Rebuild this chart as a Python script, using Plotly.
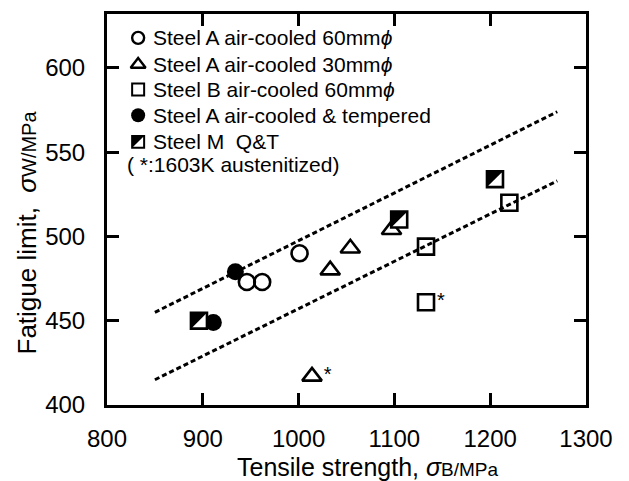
import plotly.graph_objects as go

# ---------------- data ----------------
# Steel A air-cooled 60mm (open circles)
a60_x = [946, 962, 1001]
a60_y = [473, 473, 490]
# Steel A air-cooled 30mm (open triangles); last one 1603K austenitized
a30_x = [1033, 1054, 1097, 1014]
a30_y = [480, 493, 504, 417]
a30_star = ["", "", "", "*"]
# Steel B air-cooled 60mm (open squares); last one 1603K austenitized
b60_x = [1133, 1220, 1133]
b60_y = [494, 520, 461]
b60_star = ["", "", "*"]
# Steel A air-cooled & tempered (filled circles)
at_x = [934, 911]
at_y = [479, 449]
# Steel M Q&T (half-filled squares)
m_x = [896, 1105, 1205]
m_y = [450, 510, 534]
# Scatter band lines
upper_x = [850, 1270]
upper_y = [455, 574]
lower_x = [850, 1270]
lower_y = [415, 533]

legend_labels = [
    "Steel A air-cooled 60mm<i>ϕ</i>",
    "Steel A air-cooled 30mm<i>ϕ</i>",
    "Steel B air-cooled 60mm<i>ϕ</i>",
    "Steel A air-cooled &amp; tempered",
    "Steel M  Q&amp;T",
]
note_text = "( *:1603K austenitized)"

X_RANGE = [800, 1300]
Y_RANGE = [400, 632]
W, H = 629, 481
ML, MR, MT, MB = 107, 43, 11, 76
PW, PH = W - ML - MR, H - MT - MB

FONT = "Liberation Sans, Arial, Helvetica, sans-serif"
BLACK = "black"


def half_square_shapes(xs, ys, half_px, lw, xref, yref, xspan, yspan):
    """Open square with black upper-left half, as shapes in axis coordinates."""
    a = half_px * xspan / PW
    b = half_px * yspan / PH
    out = []
    for x, y in zip(xs, ys):
        out.append(dict(type="rect", xref=xref, yref=yref, x0=x - a, x1=x + a,
                        y0=y - b, y1=y + b, fillcolor="white", line=dict(width=0),
                        layer="above"))
        out.append(dict(type="path", xref=xref, yref=yref,
                        path=f"M {x - a},{y + b} L {x + a},{y + b} L {x - a},{y - b} Z",
                        fillcolor=BLACK, line=dict(width=0), layer="above"))
        out.append(dict(type="rect", xref=xref, yref=yref, x0=x - a, x1=x + a,
                        y0=y - b, y1=y + b, fillcolor="rgba(0,0,0,0)",
                        line=dict(color=BLACK, width=lw), layer="above"))
    return out


fig = go.Figure()

# band lines
for lx, ly in [(upper_x, upper_y), (lower_x, lower_y)]:
    fig.add_trace(go.Scatter(x=lx, y=ly, mode="lines",
                             line=dict(color=BLACK, width=3, dash="5px,3px"),
                             hoverinfo="skip", showlegend=False))

MS = 16
LW = 2.6
# open circles
fig.add_trace(go.Scatter(x=a60_x, y=a60_y, mode="markers", showlegend=False,
                         marker=dict(symbol="circle-open", size=MS, color=BLACK,
                                     line=dict(color=BLACK, width=LW))))
# open triangles
fig.add_trace(go.Scatter(x=a30_x, y=a30_y, mode="markers+text", showlegend=False,
                         text=a30_star, textposition="middle right",
                         textfont=dict(family=FONT, size=20, color=BLACK),
                         marker=dict(symbol="triangle-up-open", size=MS + 1, color=BLACK,
                                     line=dict(color=BLACK, width=LW))))
# open squares
fig.add_trace(go.Scatter(x=b60_x, y=b60_y, mode="markers+text", showlegend=False,
                         text=b60_star, textposition="middle right",
                         textfont=dict(family=FONT, size=20, color=BLACK),
                         marker=dict(symbol="square-open", size=MS, color=BLACK,
                                     line=dict(color=BLACK, width=LW))))
# Steel M points (hover carrier; visual drawn as half-filled squares below)
fig.add_trace(go.Scatter(x=m_x, y=m_y, mode="markers", showlegend=False,
                         marker=dict(symbol="square", size=MS, color=BLACK, opacity=0)))
# filled circles
fig.add_trace(go.Scatter(x=at_x, y=at_y, mode="markers", showlegend=False,
                         marker=dict(symbol="circle", size=MS + 1, color=BLACK,
                                     line=dict(width=0))))

# ---------------- manual legend (paper-like axes) ----------------
leg_y = [0.939, 0.871, 0.807, 0.741, 0.673]
leg_mx = 0.065
LS = 12
legx = [leg_mx]
fig.add_trace(go.Scatter(x=legx, y=leg_y[0:1], xaxis="x2", yaxis="y2", mode="markers",
                         showlegend=False, marker=dict(symbol="circle-open", size=LS, color=BLACK,
                                                       line=dict(color=BLACK, width=2.4))))
fig.add_trace(go.Scatter(x=legx, y=leg_y[1:2], xaxis="x2", yaxis="y2", mode="markers",
                         showlegend=False, marker=dict(symbol="triangle-up-open", size=LS + 1,
                                                       color=BLACK,
                                                       line=dict(color=BLACK, width=2.4))))
fig.add_trace(go.Scatter(x=legx, y=leg_y[2:3], xaxis="x2", yaxis="y2", mode="markers",
                         showlegend=False, marker=dict(symbol="square-open", size=LS, color=BLACK,
                                                       line=dict(color=BLACK, width=2))))
fig.add_trace(go.Scatter(x=legx, y=leg_y[3:4], xaxis="x2", yaxis="y2", mode="markers",
                         showlegend=False, marker=dict(symbol="circle", size=LS + 2, color=BLACK)))

shapes = []
shapes += half_square_shapes(m_x, m_y, MS / 2, LW, "x", "y",
                             X_RANGE[1] - X_RANGE[0], Y_RANGE[1] - Y_RANGE[0])
shapes += half_square_shapes(legx, leg_y[4:5], LS / 2, 2, "paper", "paper", 1.0, 1.0)

LEG_FONT = 21
annotations = []
for lab, yy in zip(legend_labels, leg_y):
    annotations.append(dict(xref="paper", yref="paper", x=0.092, y=yy, text=lab,
                            showarrow=False, xanchor="left", yanchor="middle",
                            font=dict(family=FONT, size=LEG_FONT, color=BLACK)))
annotations.append(dict(xref="paper", yref="paper", x=0.037, y=0.614, text=note_text,
                        showarrow=False, xanchor="left", yanchor="middle",
                        font=dict(family=FONT, size=LEG_FONT, color=BLACK)))
# axis titles
annotations.append(dict(xref="paper", yref="paper", x=0.545, y=-0.158,
                        text="Tensile strength, <i>σ</i><span style='font-size:19px'>B/MPa</span>",
                        showarrow=False, xanchor="center", yanchor="middle",
                        font=dict(family=FONT, size=25, color=BLACK)))
annotations.append(dict(xref="paper", yref="paper", x=-0.168, y=0.44,
                        text="Fatigue limit,  <i>σ</i><span style='font-size:20px'>W/MPa</span>",
                        showarrow=False, xanchor="center", yanchor="middle", textangle=-90,
                        font=dict(family=FONT, size=26, color=BLACK)))

axis_common = dict(showgrid=False, zeroline=False, ticks="inside", ticklen=12, tickwidth=2.5,
                   tickcolor=BLACK, showline=True, linewidth=3, linecolor=BLACK, mirror="ticks",
                   tickfont=dict(family=FONT, size=24, color=BLACK))

fig.update_layout(
    width=W, height=H,
    margin=dict(l=ML, r=MR, t=MT, b=MB),
    paper_bgcolor="white", plot_bgcolor="white",
    showlegend=False,
    xaxis=dict(range=X_RANGE, dtick=100, tick0=800, ticklabelstandoff=10, **axis_common),
    yaxis=dict(range=Y_RANGE, dtick=50, tick0=400, ticklabelstandoff=14, **axis_common),
    xaxis2=dict(range=[0, 1], overlaying="x", visible=False),
    yaxis2=dict(range=[0, 1], overlaying="y", visible=False),
    annotations=annotations,
    shapes=shapes,
)

fig.write_html("out.html")
